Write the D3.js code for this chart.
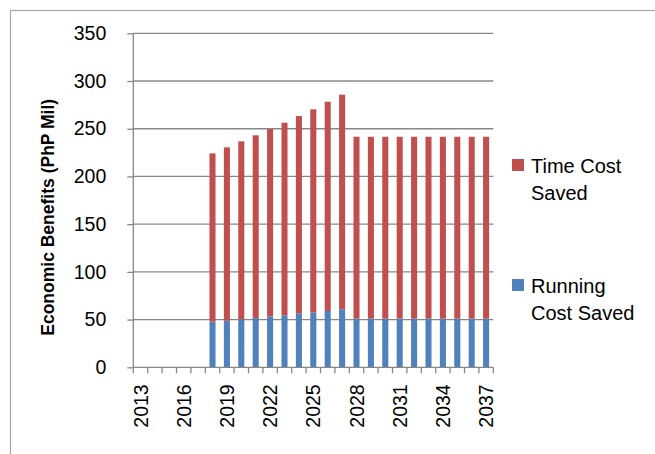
<!DOCTYPE html>
<html>
<head>
<meta charset="utf-8">
<script src="https://cdn.jsdelivr.net/npm/d3@7"></script>
<style>
  body { margin: 0; background: #fff; }
  text { font-family: "Liberation Sans", Arial, sans-serif; fill: #000; }
</style>
</head>
<body>
<div id="chart"></div>
<script>
(function () {

  // Data
  const years = d3.range(2013, 2038).map(String)
  const runningCost = [0, 0, 0, 0, 0, 47.8, 48.8, 50.3, 51.7, 53.4, 54.5, 56.6, 57.6, 59.0, 60.8,
    51, 51, 51, 51, 51, 51, 51, 51, 51, 51]
  const timeCost = [0, 0, 0, 0, 0, 176.4, 181.7, 186.5, 191.4, 196.3, 201.8, 206.7, 212.7, 219.3, 224.9,
    190.6, 190.6, 190.6, 190.6, 190.6, 190.6, 190.6, 190.6, 190.6, 190.6]
  const yTicks = [0, 50, 100, 150, 200, 250, 300, 350]
  const xLabels = years.filter((d, i) => i % 3 === 0)

  const W = 655, H = 454
  const margin = { top: 33.3, left: 133.3 }
  const plotW = 360, plotH = 334

  const svg = d3.select("#chart").append("svg")
      .attr("width", W)
      .attr("height", H)

  // outer frame
  svg.append("rect")
    .attr("x", 10.5).attr("y", 10.5)
    .attr("width", 700).attr("height", 500)
    .attr("fill", "none").attr("stroke", "#a6a6a6").attr("stroke-width", 1.2)

  const g = svg.append("g")
    .attr("transform", "translate(" + margin.left + "," + margin.top + ")")

  const x = d3.scaleBand()
    .domain(years)
    .range([0, plotW])
    .paddingInner(0.58)
    .paddingOuter(0.29)

  const y = d3.scaleLinear()
    .domain([0, 350])
    .range([plotH, 0])

  // gridlines
  g.selectAll(".grid")
    .data(yTicks.filter(d => d > 0))
    .join("line")
    .attr("x1", 0).attr("x2", plotW)
    .attr("y1", d => y(d)).attr("y2", d => y(d))
    .attr("stroke", "#878787").attr("stroke-width", 1.3)

  // stacked bars
  const table = years.map((yr, i) => ({ year: yr, running: runningCost[i], time: timeCost[i] }))
  const stack = d3.stack().keys(["running", "time"])(table)
  const colors = { running: "#4F81BD", time: "#C0504D" }

  g.selectAll(".series")
    .data(stack)
    .join("g")
    .attr("fill", d => colors[d.key])
    .selectAll("rect")
    .data(d => d.filter(p => p[1] > p[0]))
    .join("rect")
    .attr("x", d => x(d.data.year))
    .attr("width", x.bandwidth())
    .attr("y", d => y(d[1]))
    .attr("height", d => y(d[0]) - y(d[1]))

  // y axis
  const yAxis = g.append("g")
    .call(d3.axisLeft(y).tickValues(yTicks).tickSize(6).tickPadding(21))
  yAxis.select(".domain").remove()
  yAxis.selectAll("line").attr("stroke", "#878787").attr("stroke-width", 1.3)
  yAxis.selectAll("text").attr("font-size", 19.5).style("font-family", "Liberation Sans, Arial, sans-serif")
  g.append("line")
    .attr("x1", 0).attr("x2", 0).attr("y1", 0).attr("y2", plotH)
    .attr("stroke", "#878787").attr("stroke-width", 1.3)

  // x axis
  const step = x.step()
  const boundaries = d3.range(years.length + 1).map(i => i * step)
  const xAxis = g.append("g").attr("transform", "translate(0," + plotH + ")")
  xAxis.append("line")
    .attr("x1", 0).attr("x2", plotW)
    .attr("stroke", "#878787").attr("stroke-width", 1.3)
  xAxis.selectAll(".tk")
    .data(boundaries)
    .join("line")
    .attr("x1", d => d).attr("x2", d => d)
    .attr("y1", 0).attr("y2", 6)
    .attr("stroke", "#878787").attr("stroke-width", 1.3)
  xAxis.selectAll(".lbl")
    .data(xLabels)
    .join("text")
    .attr("text-anchor", "end")
    .attr("font-size", 19.5)
    .attr("transform", d => "translate(" + (x(d) + x.bandwidth() / 2 + 7) + ",17) rotate(-90)")
    .text(d => d)

  // y axis title
  svg.append("text")
    .attr("transform", "translate(54," + (margin.top + plotH / 2 + 17) + ") rotate(-90)")
    .attr("text-anchor", "middle")
    .attr("font-size", 17.5)
    .attr("font-weight", "bold")
    .text("Economic Benefits (PhP Mil)")

  // legend
  const legend = [
    { key: "time", lines: ["Time Cost", "Saved"], y: 159 },
    { key: "running", lines: ["Running", "Cost Saved"], y: 279 }
  ]
  const lg = svg.selectAll(".legend")
    .data(legend)
    .join("g")
  lg.append("rect")
    .attr("x", 512).attr("y", d => d.y)
    .attr("width", 12).attr("height", 12)
    .attr("fill", d => colors[d.key])
  lg.selectAll("text")
    .data(d => d.lines.map((t, i) => ({ t, i, y: d.y })))
    .join("text")
    .attr("x", 531)
    .attr("y", d => d.y + 14 + d.i * 27)
    .attr("font-size", 20)
    .text(d => d.t)
})();
</script>
</body>
</html>
